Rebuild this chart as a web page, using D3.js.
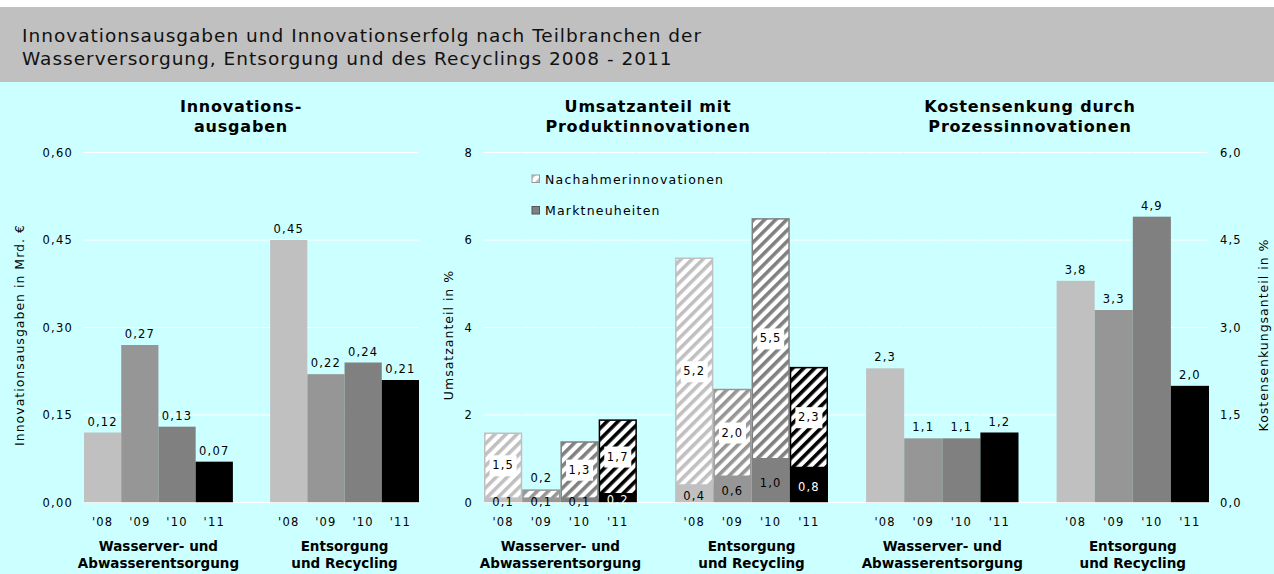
<!DOCTYPE html>
<html>
<head>
<meta charset="utf-8">
<script src="https://cdnjs.cloudflare.com/ajax/libs/d3/7.8.5/d3.min.js"></script>
<style>
body { margin: 0; background: #fff; }
text { font-family: "DejaVu Sans", Verdana, sans-serif; fill: #000; }
</style>
</head>
<body>
<script>
var width = 1274;
var height = 574;

var titleLines = ["Innovationsausgaben und Innovationserfolg nach Teilbranchen der",
                  "Wasserversorgung, Entsorgung und des Recyclings 2008 - 2011"];
var years = ["'08", "'09", "'10", "'11"];
var groups = [["Wasserver- und", "Abwasserentsorgung"], ["Entsorgung", "und Recycling"]];
var yearColors = ["#c0c0c0", "#969696", "#808080", "#000000"];

// Innovationsausgaben in Mrd. Euro
var ausgabenWasser = [0.12, 0.27, 0.13, 0.07];
var ausgabenEntsorgung = [0.45, 0.22, 0.24, 0.21];
var ausgabenTicks = [0, 0.15, 0.30, 0.45, 0.60];

// Umsatzanteil mit Produktinnovationen in %
var marktWasser = [0.1, 0.1, 0.1, 0.2];
var marktEntsorgung = [0.4, 0.6, 1.0, 0.8];
var nachahmerWasser = [1.5, 0.2, 1.3, 1.7];
var nachahmerEntsorgung = [5.2, 2.0, 5.5, 2.3];
var umsatzTicks = [0, 2, 4, 6, 8];

// Kostensenkung durch Prozessinnovationen in %
var kostenWasser = [2.3, 1.1, 1.1, 1.2];
var kostenEntsorgung = [3.8, 3.3, 4.9, 2.0];
var kostenTicks = [0, 1.5, 3.0, 4.5, 6.0];

var svg = d3.select("body").append("svg")
  .attr("width", width)
  .attr("height", height);

// background + header band
svg.append("rect").attr("x", 0).attr("y", 82).attr("width", width).attr("height", height - 82).attr("fill", "#ccffff");
svg.append("rect").attr("x", 0).attr("y", 7).attr("width", width).attr("height", 75).attr("fill", "#c0c0c0");
titleLines.forEach(function(t, i) {
  svg.append("text")
    .attr("x", 22)
    .attr("y", 42 + i * 23)
    .style("font-size", "18.5px")
    .style("letter-spacing", "1px")
    .style("fill", "#111")
    .text(t);
});

// hatch patterns for Nachahmerinnovationen, one per year colour
var defs = svg.append("defs");
yearColors.forEach(function(c, i) {
  var p = defs.append("pattern")
    .attr("id", "hatch" + i)
    .attr("patternUnits", "userSpaceOnUse")
    .attr("width", 7.8)
    .attr("height", 7.8)
    .attr("patternTransform", "rotate(45)");
  p.append("rect").attr("width", 7.8).attr("height", 7.8).attr("fill", "#fff");
  p.append("rect").attr("width", 3.6).attr("height", 7.8).attr("fill", c);
});

var slots = years.map(function(d) { return "W" + d; })
  .concat(["gap"])
  .concat(years.map(function(d) { return "E" + d; }));
var slotsRight = ["gap0"].concat(slots);

function rows(wasser, entsorgung) {
  var r = [];
  wasser.forEach(function(v, i) { r.push({slot: "W" + years[i], i: i, v: v}); });
  entsorgung.forEach(function(v, i) { r.push({slot: "E" + years[i], i: i, v: v}); });
  return r;
}

function comma(f) {
  return function(v) { return d3.format(f)(v).replace(".", ","); };
}

var y0 = 502.5, yTop = 152.5;

function setup(p) {
  var x = d3.scaleBand().domain(p.slots).range(p.xr).padding(0);
  var y = d3.scaleLinear().domain([0, p.ticks[p.ticks.length - 1]]).range([y0, yTop]);
  var g = svg.append("g");

  // gridlines (Excel draws small breaks at the category borders in two of the charts)
  p.ticks.forEach(function(t) {
    if (p.broken) {
      g.selectAll(null).data(p.slots).enter().append("line")
        .attr("x1", function(d) { return x(d); })
        .attr("x2", function(d) { return x(d) + x.bandwidth() - 1; })
        .attr("y1", y(t)).attr("y2", y(t))
        .attr("stroke", "#fff").attr("stroke-width", 1);
    } else {
      g.append("line")
        .attr("x1", p.xr[0]).attr("x2", p.xr[1])
        .attr("y1", y(t)).attr("y2", y(t))
        .attr("stroke", "#fff").attr("stroke-width", 1);
    }
  });

  // y axis
  var ax = p.right ? d3.axisRight(y) : d3.axisLeft(y);
  ax.tickValues(p.ticks).tickSize(0).tickPadding(11).tickFormat(p.fmt);
  var ag = svg.append("g")
    .attr("transform", "translate(" + (p.right ? p.xr[1] : p.xr[0]) + ",0)")
    .call(ax);
  ag.select(".domain").remove();
  ag.selectAll("text").style("font-size", "11.5px").style("letter-spacing", "1.2px")
    .style("font-family", "DejaVu Sans").attr("fill", "#000");

  // x axis with years
  var xa = d3.axisBottom(x).tickSize(0).tickPadding(15.5)
    .tickFormat(function(d) { return d.indexOf("gap") === 0 ? "" : d.slice(1); });
  var xg = svg.append("g").attr("transform", "translate(0," + y0 + ")").call(xa);
  xg.select(".domain").remove();
  xg.selectAll("text").style("font-size", "11.5px").style("letter-spacing", "1.2px")
    .style("font-family", "DejaVu Sans").attr("fill", "#000");

  // group labels
  groups.forEach(function(lines, gi) {
    var pre = gi === 0 ? "W" : "E";
    var cx = (x(pre + years[0]) + x(pre + years[3]) + x.bandwidth()) / 2;
    lines.forEach(function(l, li) {
      svg.append("text")
        .attr("x", cx).attr("y", 551 + li * 17)
        .attr("text-anchor", "middle")
        .style("font-size", "13.5px").style("font-weight", "bold")
        .text(l);
    });
  });

  // panel title
  p.title.forEach(function(l, li) {
    svg.append("text")
      .attr("x", p.titleX).attr("y", 111.5 + li * 20.5)
      .attr("text-anchor", "middle")
      .style("font-size", "16px").style("font-weight", "bold").style("letter-spacing", "0.8px")
      .text(l);
  });

  // axis title
  svg.append("text")
    .attr("transform", "translate(" + p.axisX + ",335) rotate(-90)")
    .attr("text-anchor", "middle")
    .style("font-size", "12.5px").style("letter-spacing", "1px")
    .text(p.axisTitle);

  return {x: x, y: y, g: g};
}

function simpleBars(s, data, fmt) {
  s.g.selectAll(null).data(data).enter().append("rect")
    .attr("x", function(d) { return s.x(d.slot); })
    .attr("width", s.x.bandwidth())
    .attr("y", function(d) { return s.y(d.v); })
    .attr("height", function(d) { return y0 - s.y(d.v); })
    .attr("fill", function(d) { return yearColors[d.i]; });
  s.g.selectAll(null).data(data).enter().append("text")
    .attr("x", function(d) { return s.x(d.slot) + s.x.bandwidth() / 2; })
    .attr("y", function(d) { return s.y(d.v) - 7; })
    .attr("text-anchor", "middle")
    .style("font-size", "11.5px").style("letter-spacing", "1.2px")
    .text(function(d) { return fmt(d.v); });
}

function baseline(s, xr) {
  s.g.append("line").attr("x1", xr[0]).attr("x2", xr[1])
    .attr("y1", y0).attr("y2", y0)
    .attr("stroke", "#fff").attr("stroke-opacity", 0.6).attr("stroke-width", 1.2);
}

// --- Innovationsausgaben
var left = setup({
  slots: slots, xr: [84, 419], ticks: ausgabenTicks, fmt: comma(".2f"),
  title: ["Innovations-", "ausgaben"], titleX: 241,
  axisTitle: "Innovationsausgaben in Mrd. \u20ac", axisX: 24
});
simpleBars(left, rows(ausgabenWasser, ausgabenEntsorgung), comma(".2f"));
baseline(left, [84, 419]);

// --- Umsatzanteil (stacked)
var mid = setup({
  slots: slots, xr: [484, 828], ticks: umsatzTicks, fmt: comma("d"), broken: true,
  title: ["Umsatzanteil mit", "Produktinnovationen"], titleX: 648,
  axisTitle: "Umsatzanteil in %", axisX: 453
});
var markt = rows(marktWasser, marktEntsorgung);
var nach = rows(nachahmerWasser, nachahmerEntsorgung);
var f1 = comma(".1f");
var bw = mid.x.bandwidth();

mid.g.selectAll(null).data(markt).enter().append("rect")
  .attr("x", function(d) { return mid.x(d.slot); })
  .attr("width", bw)
  .attr("y", function(d) { return mid.y(d.v); })
  .attr("height", function(d) { return y0 - mid.y(d.v); })
  .attr("fill", function(d) { return yearColors[d.i]; });

mid.g.selectAll(null).data(nach).enter().append("rect")
  .attr("x", function(d) { return mid.x(d.slot) + 0.75; })
  .attr("width", bw - 1.5)
  .attr("y", function(d, k) { return mid.y(markt[k].v + d.v) + 0.75; })
  .attr("height", function(d, k) { return mid.y(markt[k].v) - mid.y(markt[k].v + d.v) - 0.75; })
  .attr("fill", function(d) { return "url(#hatch" + d.i + ")"; })
  .attr("stroke", function(d) { return yearColors[d.i]; })
  .attr("stroke-width", 1.5);

baseline(mid, [484, 828]);

nach.forEach(function(d, k) {
  var cx = mid.x(d.slot) + bw / 2;
  var top = mid.y(markt[k].v + d.v), bot = mid.y(markt[k].v);
  if (bot - top < 16) {
    mid.g.append("text").attr("x", cx).attr("y", top - 7)
      .attr("text-anchor", "middle")
      .style("font-size", "11.5px").style("letter-spacing", "1.2px")
      .text(f1(d.v));
    return;
  }
  var t = mid.g.append("text").attr("x", cx).attr("y", (top + bot) / 2 + 4)
    .attr("text-anchor", "middle")
    .style("font-size", "11.5px").style("letter-spacing", "1.2px")
    .text(f1(d.v));
  mid.g.insert("rect", function() { return t.node(); })
    .attr("x", cx - 13.5).attr("y", (top + bot) / 2 - 10)
    .attr("width", 27).attr("height", 21)
    .attr("fill", "#fff");
});

markt.forEach(function(d) {
  var cx = mid.x(d.slot) + bw / 2;
  mid.g.append("text").attr("x", cx).attr("y", (mid.y(d.v) + y0) / 2 + 6)
    .attr("text-anchor", "middle")
    .style("font-size", "11.5px").style("letter-spacing", "1.2px")
    .style("fill", d.i === 3 ? "#fff" : "#000")
    .text(f1(d.v));
});

// legend
var legend = [
  {label: "Nachahmerinnovationen", y: 175, fill: "url(#hatch0)", stroke: "#999"},
  {label: "Marktneuheiten", y: 206.5, fill: "#808080", stroke: "#555"}
];
legend.forEach(function(l) {
  svg.append("rect").attr("x", 532).attr("y", l.y).attr("width", 7.5).attr("height", 7.5)
    .attr("fill", l.fill).attr("stroke", l.stroke).attr("stroke-width", 1);
  svg.append("text").attr("x", 545).attr("y", l.y + 8.5)
    .style("font-size", "12.5px").style("letter-spacing", "1.2px")
    .text(l.label);
});

// --- Kostensenkung
var right = setup({
  slots: slotsRight, xr: [828, 1209], ticks: kostenTicks, fmt: comma(".1f"), broken: true, right: true,
  title: ["Kostensenkung durch", "Prozessinnovationen"], titleX: 1030,
  axisTitle: "Kostensenkungsanteil in %", axisX: 1268
});
simpleBars(right, rows(kostenWasser, kostenEntsorgung), f1);
baseline(right, [828, 1209]);
</script>
</body>
</html>
